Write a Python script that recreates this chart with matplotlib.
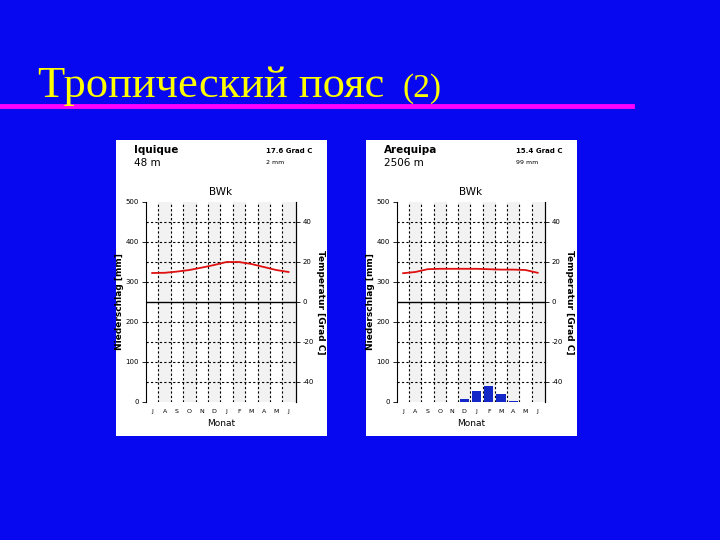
import matplotlib
matplotlib.use("Agg")
import matplotlib.pyplot as plt
from matplotlib.patches import Rectangle
from matplotlib.lines import Line2D

months = ["J", "A", "S", "O", "N", "D", "J", "F", "M", "A", "M", "J"]
iq_temp = [14.5, 14.6, 15.2, 16.0, 17.2, 18.5, 20.0, 20.0, 19.0, 17.5, 16.0, 15.0]
iq_prec = [0, 0, 0, 0, 0, 0, 0.5, 0.5, 0.5, 0.5, 0, 0]
ar_temp = [14.4, 15.0, 16.4, 16.6, 16.6, 16.6, 16.6, 16.4, 16.2, 16.2, 16.0, 14.6]
ar_prec = [0, 0, 0, 0, 0, 8, 27, 41, 20, 3, 0, 0]

BG = "#0808f0"
fig = plt.figure(figsize=(7.2, 5.4), dpi=100, facecolor=BG)

fig.text(38/720, 1-97/540, "Тропический пояс", family="Liberation Serif", fontsize=32,
         color="#ffff00", va="baseline", ha="left")
fig.text(402/720, 1-97/540, "(2)", family="Liberation Serif", fontsize=24,
         color="#ffff00", va="baseline", ha="left")
fig.add_artist(Line2D([0, 632/720], [1-106/540]*2, color="#ff00ff", lw=3.5,
                      transform=fig.transFigure))

def panel(px, ax_left, ax_w, name, elev, tmean, psum, temp, prec):
    r = Rectangle((px/720, 104/540), 211/720, 296/540, transform=fig.transFigure,
                  facecolor="white", edgecolor="none", zorder=-5)
    fig.patches.append(r)
    ax = fig.add_axes([ax_left/720, 138/540, ax_w/720, 200/540])
    ax.set_xlim(0, 12.1)
    ax.set_ylim(0, 500)
    for s in ["top", "bottom"]:
        ax.spines[s].set_visible(False)
    for i in range(0, 12, 2):
        ax.axvspan(i + 1, i + 2, color="#f2f2f2", zorder=0)
    for i in range(1, 12):
        ax.axvline(i, color="black", ls=(0, (2, 2)), lw=0.8)
    for y in [50, 100, 150, 200, 300, 350, 400, 450]:
        ax.axhline(y, color="black", ls=(0, (2, 2)), lw=0.8)
    ax.axhline(250, color="black", lw=1)
    x = [i + 0.5 for i in range(12)]
    ax.bar(x, prec, width=0.75, color="#1428c8", zorder=3)
    ax.plot(x, [250 + 5*t for t in temp], color="#e01010", lw=1.3, zorder=4)
    ax.set_yticks([0, 100, 200, 300, 400, 500])
    ax.set_yticklabels(["0", "100", "200", "300", "400", "500"], fontsize=5)
    ax.set_xticks(x)
    ax.set_xticklabels(months, fontsize=4.5)
    ax.tick_params(axis="x", length=0, pad=5)
    ax.tick_params(axis="y", length=3, width=0.6, pad=2)
    ax.set_ylabel("Niederschlag [mm]", fontsize=6.5, fontweight="bold", labelpad=1)
    ax.set_xlabel("Monat", fontsize=6.5, labelpad=4)
    ax2 = ax.twinx()
    ax2.set_ylim(-50, 50)
    for s in ["top", "bottom", "left"]:
        ax2.spines[s].set_visible(False)
    ax2.set_yticks([-40, -20, 0, 20, 40])
    ax2.set_yticklabels(["-40", "-20", "0", "20", "40"], fontsize=5)
    ax2.tick_params(axis="y", length=3, width=0.6, pad=2)
    ax2.set_ylabel("Temperatur [Grad C]", fontsize=6.5, fontweight="bold", rotation=-90, labelpad=8)
    ax.set_title("BWk", fontsize=7.5, pad=5)
    fig.text((px+18)/720, 1-150/540, name, fontsize=7.5, fontweight="bold", va="center")
    fig.text((px+18)/720, 1-163/540, elev, fontsize=7.5, va="center")
    fig.text((px+150)/720, 1-151/540, tmean, fontsize=5, fontweight="bold", va="center")
    fig.text((px+150)/720, 1-162/540, psum, fontsize=4.5, va="center")

panel(116, 146, 150, "Iquique", "48 m", "17.6 Grad C", "2 mm", iq_temp, iq_prec)
panel(366, 397, 148, "Arequipa", "2506 m", "15.4 Grad C", "99 mm", ar_temp, ar_prec)

fig.savefig("out.png", dpi=100, facecolor=BG)
